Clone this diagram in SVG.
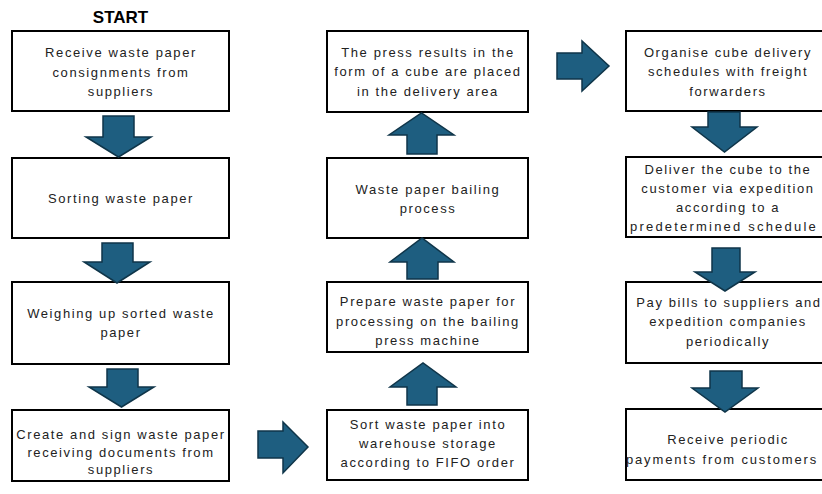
<svg xmlns="http://www.w3.org/2000/svg" width="822" height="494" viewBox="0 0 822 494">
<style>
.box{fill:#ffffff;stroke:#000000;stroke-width:2}
.t{font-family:"Liberation Sans",Arial,sans-serif;font-size:13px;fill:#222222;text-anchor:middle;letter-spacing:1.6px}
.w{letter-spacing:2.2px}
.w2{letter-spacing:1.85px}
.arr{fill:#1e5e80;stroke:#0f3549;stroke-width:1.5;stroke-linejoin:miter}
.title{font-family:"Liberation Sans",Arial,sans-serif;font-size:17px;font-weight:bold;fill:#000000;text-anchor:middle}
</style>
<rect width="822" height="494" fill="#ffffff"/>
<text class="title" x="120.5" y="23">START</text>

<g id="n1"><rect class="box" x="12" y="31" width="217" height="80"/>
<text class="t" x="121" y="57">Receive waste paper</text>
<text class="t" x="121" y="77">consignments from</text>
<text class="t" x="121" y="96">suppliers</text></g>

<g id="n2"><rect class="box" x="12" y="158" width="217" height="80"/>
<text class="t" x="121" y="203">Sorting waste paper</text></g>

<g id="n3"><rect class="box" x="12" y="282" width="217" height="82"/>
<text class="t" x="121" y="318">Weighing up sorted waste</text>
<text class="t" x="121" y="337">paper</text></g>

<g id="n4"><rect class="box" x="12" y="410" width="217" height="71"/>
<text class="t" x="121" y="439">Create and sign waste paper</text>
<text class="t" x="121" y="457">receiving documents from</text>
<text class="t" x="121" y="474">suppliers</text></g>

<g id="n5"><rect class="box" x="327" y="31" width="201" height="81"/>
<text class="t" x="428" y="57">The press results in the</text>
<text class="t" x="428" y="76">form of a cube are placed</text>
<text class="t" x="428" y="96">in the delivery area</text></g>

<g id="n6"><rect class="box" x="327" y="158" width="201" height="80"/>
<text class="t" x="428" y="194">Waste paper bailing</text>
<text class="t" x="428" y="213">process</text></g>

<g id="n7"><rect class="box" x="327" y="282" width="201" height="70"/>
<text class="t" x="428" y="306">Prepare waste paper for</text>
<text class="t" x="428" y="326">processing on the bailing</text>
<text class="t" x="428" y="345">press machine</text></g>

<g id="n8"><rect class="box" x="327" y="410" width="201" height="70"/>
<text class="t" x="428" y="429">Sort waste paper into</text>
<text class="t" x="428" y="448">warehouse storage</text>
<text class="t" x="428" y="467">according to FIFO order</text></g>

<g id="n9"><rect class="box" x="626" y="31" width="204" height="80"/>
<text class="t" x="728" y="57">Organise cube delivery</text>
<text class="t" x="728" y="76">schedules with freight</text>
<text class="t" x="728" y="96">forwarders</text></g>

<g id="n10"><rect class="box" x="626" y="157" width="204" height="80"/>
<text class="t" x="728" y="174">Deliver the cube to the</text>
<text class="t" x="728" y="193">customer via expedition</text>
<text class="t" x="728" y="212">according to a</text>
<text class="t w" x="724" y="231">predetermined schedule</text></g>

<g id="n11"><rect class="box" x="626" y="282" width="204" height="81"/>
<text class="t" x="729" y="307">Pay bills to suppliers and</text>
<text class="t" x="728" y="326">expedition companies</text>
<text class="t" x="728" y="346">periodically</text></g>

<g id="n12"><rect class="box" x="626" y="409" width="204" height="71"/>
<text class="t" x="728" y="444">Receive periodic</text>
<text class="t w2" x="722" y="464">payments from customers</text></g>

<g id="connectors">
<polygon class="arr" points="103,116 134,116 134,137 151,137 118.5,157 86,137 103,137"/>
<polygon class="arr" points="102,243 133,243 133,262 150,262 117,283 84,262 102,262"/>
<polygon class="arr" points="107,369 138,369 138,387 154,387 121.5,407 89,387 107,387"/>
<polygon class="arr" points="258,431 283,431 283,422 308,447 283,473 283,458 258,458"/>
<polygon class="arr" points="407,405 437,405 437,387 456,387 423,363 390,387 407,387"/>
<polygon class="arr" points="407,279 438,279 438,262 454,262 422,238 390,262 407,262"/>
<polygon class="arr" points="407,154 437,154 437,135 454,135 421.5,113 389,135 407,135"/>
<polygon class="arr" points="557,53 582,53 582,41 609,66 582,91 582,79 557,79"/>
<polygon class="arr" points="708,112 740,112 740,127 757,127 724.5,152 692,127 708,127"/>
<polygon class="arr" points="712,248 740,248 740,272 755,272 725,291 695,272 712,272"/>
<polygon class="arr" points="710,371 742,371 742,388 758,388 725,412 692,388 710,388"/>
</g>
</svg>
